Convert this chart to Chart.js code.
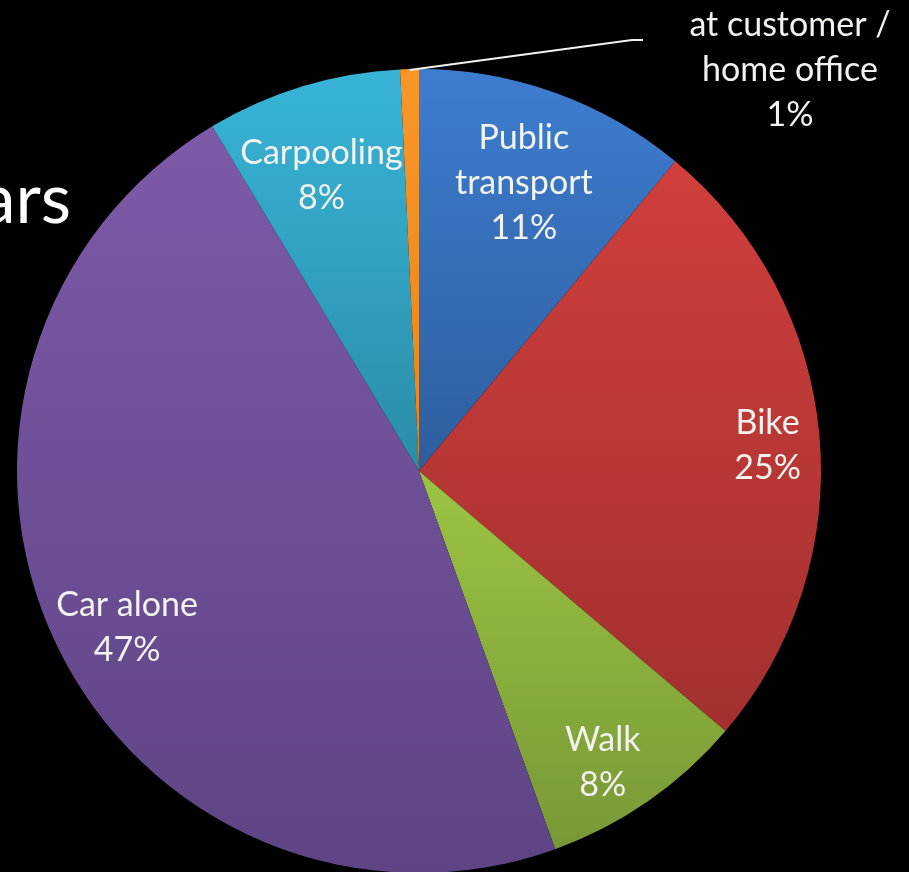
<!DOCTYPE html>
<html>
<head>
<meta charset="utf-8">
<title>Commute modes</title>
<script src="https://cdn.jsdelivr.net/npm/chart.js@4.4.0/dist/chart.umd.min.js"></script>
<style>
  html, body { margin: 0; padding: 0; background: #000; overflow: hidden; }
  #wrap { position: relative; width: 909px; height: 880px; }
</style>
</head>
<body>
<div id="wrap"><canvas id="chartModos" width="909" height="880"></canvas></div>
<script>
// ==============================
// DATA
// ==============================
const categories = ["Public\ntransport", "Bike", "Walk", "Car alone", "Carpooling", "at customer /\nhome office"];
const shares = [11.0, 25.2, 8.3, 46.9, 7.85, 0.75];

// top / bottom colour of each slice (Office style gradient)
const sliceColors = [
  ["#3d7dd0", "#2e5e9e"],
  ["#d03f3c", "#a2302f"],
  ["#9cc442", "#789836"],
  ["#7c5aa8", "#5e4484"],
  ["#38b4d8", "#2a8da7"],
  ["#f99628", "#e8861d"]
];

// label placement: fraction of radius + small angle shift (deg); null = outside callout
const labelRadius = [0.77, 0.87, 0.85, 0.82, 0.78, null];
const labelAngleShift = [0, 0.4, 2.2, -2.3, -1.3, 0];

const FONT = "Lato, 'Open Sans', sans-serif";

function pct(i) {
  const total = shares.reduce((a, b) => a + b, 0);
  return Math.round(shares[i] / total * 100) + "%";
}

// ==============================
// GRADIENT PER SLICE
// ==============================
function sliceGradient(c) {
  const chart = c.chart;
  const area = chart.chartArea;
  const i = c.dataIndex;
  const [top, bottom] = sliceColors[i];
  if (!area) return top;
  const cx = (area.left + area.right) / 2;
  const cy = (area.top + area.bottom) / 2;
  const r = Math.min(area.width, area.height) / 2;
  const total = shares.reduce((a, b) => a + b, 0);
  let start = 0;
  for (let k = 0; k < i; k++) start += shares[k];
  const a0 = -Math.PI / 2 + start / total * Math.PI * 2;
  const a1 = a0 + shares[i] / total * Math.PI * 2;
  const ys = [cy, cy + r * Math.sin(a0), cy + r * Math.sin(a1)];
  [-Math.PI / 2, Math.PI / 2, Math.PI * 1.5].forEach(q => {
    if (q >= a0 && q <= a1) ys.push(cy + r * Math.sin(q));
  });
  const g = chart.ctx.createLinearGradient(0, Math.min(...ys), 0, Math.max(...ys));
  g.addColorStop(0, top);
  g.addColorStop(1, bottom);
  return g;
}

// ==============================
// PLUGIN - BACKGROUND TITLE + LABELS
// ==============================
const pieLabels = {
  id: "pieLabels",
  beforeDatasetsDraw(chart) {
    const ctx = chart.ctx;
    ctx.save();
    ctx.fillStyle = "#ffffff";
    ctx.font = "70px " + FONT;
    ctx.textAlign = "right";
    ctx.textBaseline = "alphabetic";
    ctx.fillText("ars", 71, 223);
    ctx.restore();
  },
  afterDatasetsDraw(chart, args, opts) {
    const ctx = chart.ctx;
    const meta = chart.getDatasetMeta(0);
    ctx.save();
    ctx.font = opts.size + "px " + FONT;
    ctx.fillStyle = "#f2f2ee";
    ctx.textAlign = "center";
    ctx.textBaseline = "middle";

    meta.data.forEach((arc, i) => {
      const p = arc.getProps(["x", "y", "startAngle", "endAngle", "outerRadius"], true);
      const mid = (p.startAngle + p.endAngle) / 2 + labelAngleShift[i] * Math.PI / 180;
      const lines = categories[i].split("\n").concat([pct(i)]);
      let lx, ly;
      if (labelRadius[i] !== null) {
        lx = p.x + Math.cos(mid) * p.outerRadius * labelRadius[i];
        ly = p.y + Math.sin(mid) * p.outerRadius * labelRadius[i] + 3;
      } else {
        // callout line to outside label
        const ex = p.x + Math.cos(mid) * p.outerRadius;
        const ey = p.y + Math.sin(mid) * p.outerRadius;
        ctx.strokeStyle = "#f2f2ee";
        ctx.lineWidth = 2;
        ctx.beginPath();
        ctx.moveTo(ex, ey + 1);
        ctx.lineTo(opts.elbow[0], opts.elbow[1]);
        ctx.lineTo(opts.elbow[0] + 11, opts.elbow[1]);
        ctx.stroke();
        lx = opts.outside[0];
        ly = opts.outside[1];
      }
      const top = ly - (lines.length - 1) * opts.lineHeight / 2;
      lines.forEach((t, k) => ctx.fillText(t, lx, top + k * opts.lineHeight));
    });
    ctx.restore();
  }
};

// ==============================
// CHART
// ==============================
new Chart(document.getElementById("chartModos"), {
  type: "pie",
  data: {
    labels: categories,
    datasets: [{
      data: shares,
      backgroundColor: sliceGradient,
      borderWidth: 0
    }]
  },
  options: {
    responsive: false,
    animation: false,
    layout: { padding: { left: 17, right: 88, top: 69, bottom: 7 } },
    plugins: {
      legend: { display: false },
      tooltip: { enabled: false },
      pieLabels: { size: 34, lineHeight: 45, elbow: [632, 40], outside: [790, 70] }
    }
  },
  plugins: [pieLabels]
});
</script>
</body>
</html>
